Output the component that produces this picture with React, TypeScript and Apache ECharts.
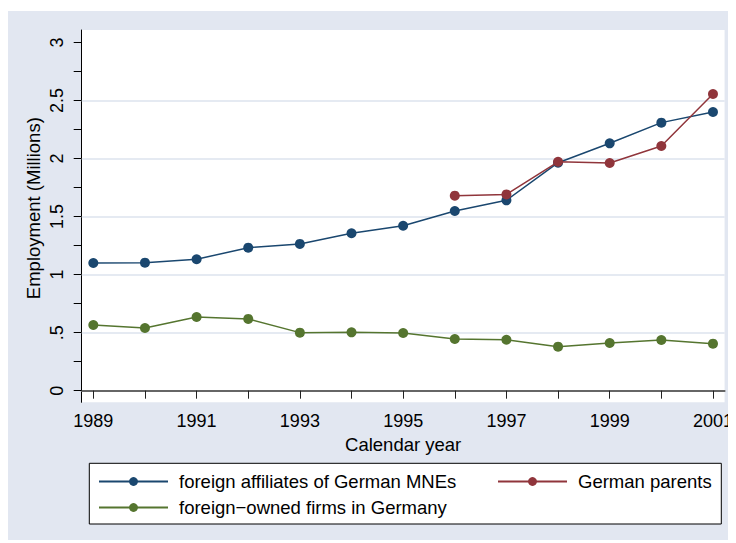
import React, { useEffect, useRef } from "react";
import * as echarts from "echarts";

const years = [1989, 1990, 1991, 1992, 1993, 1994, 1995, 1996, 1997, 1998, 1999, 2000, 2001];
const affiliates = [1.1, 1.103, 1.132, 1.232, 1.264, 1.356, 1.421, 1.548, 1.64, 1.964, 2.131, 2.309, 2.401];
const parentYears = [1996, 1997, 1998, 1999, 2000, 2001];
const parents = [1.68, 1.691, 1.972, 1.961, 2.108, 2.556];
const foreignOwned = [0.566, 0.54, 0.635, 0.618, 0.5, 0.503, 0.497, 0.445, 0.439, 0.379, 0.411, 0.437, 0.405];
const xTickValues = years;
const xLabelValues = [1989, 1991, 1993, 1995, 1997, 1999, 2001];
const yTickValues = [0, 0.25, 0.5, 0.75, 1, 1.25, 1.5, 1.75, 2, 2.25, 2.5, 2.75, 3];
const yLabelValues = [0, 0.5, 1, 1.5, 2, 2.5, 3];
const gridValues = [0.5, 1, 1.5, 2, 2.5];
const seriesNames = [
  "foreign affiliates of German MNEs",
  "German parents",
  "foreign\u2212owned firms in Germany",
];

const FONT = "'Liberation Sans', Arial, sans-serif";
const NAVY = "#1a476f";
const MAROON = "#90353b";
const GREEN = "#55752f";

export default function App() {
  const ref = useRef<HTMLDivElement>(null);
  useEffect(() => {
    if (!ref.current) return;
    const chart = echarts.init(ref.current, undefined, { renderer: "svg" });
    const legendBase = {
      orient: "horizontal",
      padding: 0,
      itemWidth: 69,
      itemHeight: 11,
      textStyle: { fontFamily: FONT, fontSize: 18.5, color: "#000", padding: [0, 0, 0, 6] },
      selectedMode: false,
    };
    chart.setOption({
      animation: false,
      backgroundColor: "#e2e7f1",
      textStyle: { fontFamily: FONT },
      grid: {
        left: 73.7,
        right: 6.7,
        top: 19,
        bottom: 140.7,
        show: true,
        backgroundColor: "#ffffff",
        borderWidth: 0,
      },
      graphic: [
        {
          type: "rect",
          shape: { x: 81.3, y: 452.3, width: 632, height: 60.7 },
          style: { fill: "#ffffff", stroke: "#000000", lineWidth: 1 },
          z: 0,
        },
      ],
      legend: [
        { ...legendBase, data: [seriesNames[0]], left: 90, top: 461 },
        { ...legendBase, data: [seriesNames[1]], left: 489, top: 461 },
        { ...legendBase, data: [seriesNames[2]], left: 90, top: 487 },
      ],
      xAxis: {
        type: "value",
        min: 1988.775,
        max: 2001.225,
        name: "Calendar year",
        nameLocation: "middle",
        nameGap: 30,
        nameTextStyle: { fontFamily: FONT, fontSize: 18.5, color: "#000" },
        axisLine: { show: true, lineStyle: { color: "#666666", width: 2 } },
        axisTick: { show: true, customValues: xTickValues, length: 8, lineStyle: { color: "#222", width: 1 } },
        axisLabel: {
          customValues: xLabelValues,
          fontFamily: FONT,
          fontSize: 18,
          color: "#000",
          margin: 10,
          formatter: (v: number) => String(v),
        },
        splitLine: { show: false },
      },
      yAxis: {
        type: "value",
        min: -0.1,
        max: 3.107,
        name: "Employment (Millions)",
        nameLocation: "middle",
        nameRotate: 90,
        nameGap: 39,
        nameMoveOverlap: false,
        nameTextStyle: { fontFamily: FONT, fontSize: 18.5, color: "#000", padding: [0, 0, 0, 16] },
        axisLine: { show: true, lineStyle: { color: "#000", width: 1 } },
        axisTick: { show: true, customValues: yTickValues, length: 8, lineStyle: { color: "#000", width: 1 } },
        axisLabel: {
          customValues: yLabelValues,
          rotate: 90,
          fontFamily: FONT,
          fontSize: 18,
          color: "#000",
          margin: 16,
          formatter: (v: number) => (v > 0 && v < 1 ? String(v).replace(/^0/, "") : String(v)),
        },
        splitLine: { show: false },
      },
      series: [
        {
          name: "grid",
          type: "line",
          data: [],
          z: 1,
          silent: true,
          markLine: {
            silent: true,
            z: 1,
            symbol: "none",
            label: { show: false },
            lineStyle: { color: "#dde3ee", width: 1.5, type: "solid" },
            data: gridValues.map((v) => ({ yAxis: v })),
          },
        },
        {
          name: seriesNames[0],
          type: "line",
          data: years.map((y, i) => [y, affiliates[i]]),
          symbol: "circle",
          symbolSize: 10,
          color: NAVY,
          lineStyle: { color: NAVY, width: 1.5 },
          itemStyle: { color: NAVY },
          z: 3,
        },
        {
          name: seriesNames[1],
          type: "line",
          data: parentYears.map((y, i) => [y, parents[i]]),
          symbol: "circle",
          symbolSize: 10,
          color: MAROON,
          lineStyle: { color: MAROON, width: 1.5 },
          itemStyle: { color: MAROON },
          z: 4,
        },
        {
          name: seriesNames[2],
          type: "line",
          data: years.map((y, i) => [y, foreignOwned[i]]),
          symbol: "circle",
          symbolSize: 10,
          color: GREEN,
          lineStyle: { color: GREEN, width: 1.5 },
          itemStyle: { color: GREEN },
          z: 3,
        },
      ],
    });
    return () => chart.dispose();
  }, []);
  return (
    <div
      ref={ref}
      style={{ width: 728, height: 532, position: "relative", top: 3 }}
    />
  );
}
